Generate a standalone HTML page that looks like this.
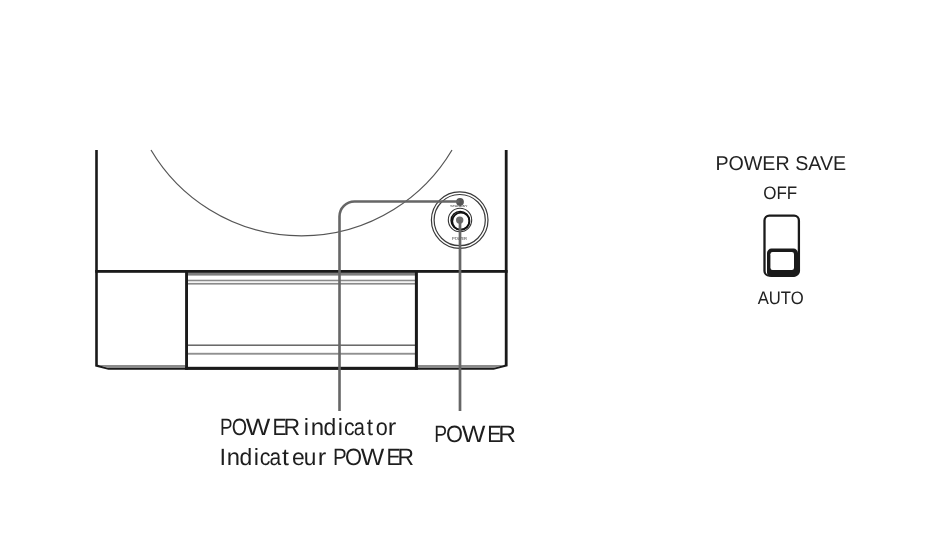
<!DOCTYPE html>
<html><head><meta charset="utf-8">
<style>
html,body{margin:0;padding:0;background:#fff;}
body{width:934px;height:552px;overflow:hidden;}
svg{display:block;will-change:transform;text-rendering:geometricPrecision;}
text{font-family:"Liberation Sans",sans-serif;fill:#222;}
.lbl text{fill:#1e1e1e;}
</style></head>
<body>
<svg width="934" height="552" viewBox="0 0 934 552">
<!-- arc -->
<path d="M151,150 A174.9,174.9 0 0 0 452,150" fill="none" stroke="#555" stroke-width="1.2"/>
<!-- cabinet outline -->
<g fill="#8c8c8c">
<polygon points="98.5,365 185.5,365 185.5,367.9 108.5,367.9"/>
<polygon points="417.5,365 503.6,365 493.6,367.9 417.5,367.9"/>
<rect x="187" y="272.6" width="228.5" height="3" fill="#7e7e7e"/>
<rect x="187" y="279.7" width="228.5" height="1.6" fill="#8a8a8a"/>
<rect x="187" y="282.9" width="228.5" height="1.7" fill="#8a8a8a"/>
<rect x="187" y="344.5" width="228.5" height="1.4" fill="#5a5a5a"/>
<rect x="187" y="352.8" width="228.5" height="1.9" fill="#909090"/>
</g>
<g fill="#1a1a1a">
<path d="M95.2,150 V366.5 L108.4,369.7 H493.6 L507.6,366.3 V150 H504.8 V364.7 L493.6,367.9 H108.2 L97.8,364.8 V150 Z"/>
<rect x="95.2" y="270" width="412.4" height="2.8"/>
<rect x="185.1" y="270" width="2.9" height="99.7"/>
<rect x="414.9" y="270" width="3" height="99.7"/>
<rect x="185.1" y="366.8" width="232.8" height="2.9"/>
</g>
<!-- power button -->
<circle cx="459.7" cy="220.1" r="28.3" fill="none" stroke="#3a3a3a" stroke-width="1.2"/>
<circle cx="459.7" cy="220.1" r="25.6" fill="none" stroke="#3a3a3a" stroke-width="1.2"/>
<circle cx="460" cy="220" r="11.7" fill="none" stroke="#333" stroke-width="1.1"/>
<circle cx="460.2" cy="220.5" r="9.1" fill="none" stroke="#111" stroke-width="1.5"/>
<circle cx="460.9" cy="221.2" r="8.6" fill="none" stroke="#111" stroke-width="1.7"/>
<circle cx="459.7" cy="220.1" r="3.7" fill="#6e6e6e"/>
<circle cx="460" cy="201.8" r="3.9" fill="#555"/>
<text x="450.2" y="206.6" font-size="3" textLength="17.3" lengthAdjust="spacingAndGlyphs" fill="#8a8a8a">STANDBY</text>
<text x="452" y="239.9" font-size="4.4" textLength="14.9" lengthAdjust="spacingAndGlyphs" fill="#8a8a8a">POWER</text>
<!-- leaders -->
<path d="M459.5,201.5 H354.5 A15,15 0 0 0 339.5,216.5 V411" fill="none" stroke="#666" stroke-width="2.6"/>
<line x1="460" y1="220.1" x2="460" y2="411" stroke="#666" stroke-width="2.7"/>
<!-- labels -->
<g class="lbl">
<text transform="translate(220.07,434.9) scale(0.799,1)" font-size="23.5">P</text>
<text transform="translate(231.64,434.9) scale(0.839,1)" font-size="23.5">O</text>
<text transform="translate(245.72,434.9) scale(1.105,1)" font-size="23.5">W</text>
<text transform="translate(272.59,434.9) scale(0.887,1)" font-size="23.5">E</text>
<text transform="translate(283.50,434.9) scale(0.979,1)" font-size="23.5">R</text>
<text transform="translate(303.70,434.9) scale(1.000,1)" font-size="23.5">i</text>
<text transform="translate(310.73,434.9) scale(1.024,1)" font-size="23.5">n</text>
<text transform="translate(323.60,434.9) scale(0.974,1)" font-size="23.5">d</text>
<text transform="translate(337.85,434.9) scale(1.000,1)" font-size="23.5">i</text>
<text transform="translate(344.08,434.9) scale(0.903,1)" font-size="23.5">c</text>
<text transform="translate(353.73,434.9) scale(0.850,1)" font-size="23.5">a</text>
<text transform="translate(366.65,434.9) scale(0.962,1)" font-size="23.5">t</text>
<text transform="translate(375.66,434.9) scale(0.920,1)" font-size="23.5">o</text>
<text transform="translate(387.73,434.9) scale(1.089,1)" font-size="23.5">r</text>
<text transform="translate(219.61,464.9) scale(1.000,1)" font-size="23.5">I</text>
<text transform="translate(226.65,464.9) scale(1.014,1)" font-size="23.5">n</text>
<text transform="translate(239.50,464.9) scale(0.974,1)" font-size="23.5">d</text>
<text transform="translate(253.70,464.9) scale(1.000,1)" font-size="23.5">i</text>
<text transform="translate(259.87,464.9) scale(0.913,1)" font-size="23.5">c</text>
<text transform="translate(269.59,464.9) scale(0.891,1)" font-size="23.5">a</text>
<text transform="translate(281.93,464.9) scale(1.060,1)" font-size="23.5">t</text>
<text transform="translate(292.00,464.9) scale(0.974,1)" font-size="23.5">e</text>
<text transform="translate(303.82,464.9) scale(0.964,1)" font-size="23.5">u</text>
<text transform="translate(317.63,464.9) scale(1.089,1)" font-size="23.5">r</text>
<text transform="translate(333.02,464.9) scale(0.873,1)" font-size="23.5">P</text>
<text transform="translate(345.05,464.9) scale(0.932,1)" font-size="23.5">O</text>
<text transform="translate(360.73,464.9) scale(1.059,1)" font-size="23.5">W</text>
<text transform="translate(386.46,464.9) scale(0.903,1)" font-size="23.5">E</text>
<text transform="translate(397.61,464.9) scale(0.971,1)" font-size="23.5">R</text>
<text transform="translate(434.33,441.9) scale(0.816,1)" font-size="23.5">P</text>
<text transform="translate(446.05,441.9) scale(0.926,1)" font-size="23.5">O</text>
<text transform="translate(461.63,441.9) scale(1.064,1)" font-size="23.5">W</text>
<text transform="translate(487.36,441.9) scale(0.903,1)" font-size="23.5">E</text>
<text transform="translate(498.37,441.9) scale(1.044,1)" font-size="23.5">R</text>
</g>
<!-- power save -->
<text x="715.4" y="170" font-size="20" textLength="130.8" lengthAdjust="spacingAndGlyphs" fill="#333">POWER SAVE</text>
<text x="763.2" y="198.8" font-size="18" textLength="34" lengthAdjust="spacingAndGlyphs" fill="#333">OFF</text>
<text x="757.7" y="303.8" font-size="18" textLength="46" lengthAdjust="spacingAndGlyphs" fill="#333">AUTO</text>
<rect x="764.5" y="215.7" width="34.4" height="60" rx="4.8" fill="none" stroke="#1a1a1a" stroke-width="2.3"/>
<rect x="767" y="248.6" width="31" height="28.3" rx="4.5" fill="#1a1a1a"/>
<rect x="770.4" y="252" width="23.6" height="18" rx="2.2" fill="#fff"/>
</svg>
</body></html>
